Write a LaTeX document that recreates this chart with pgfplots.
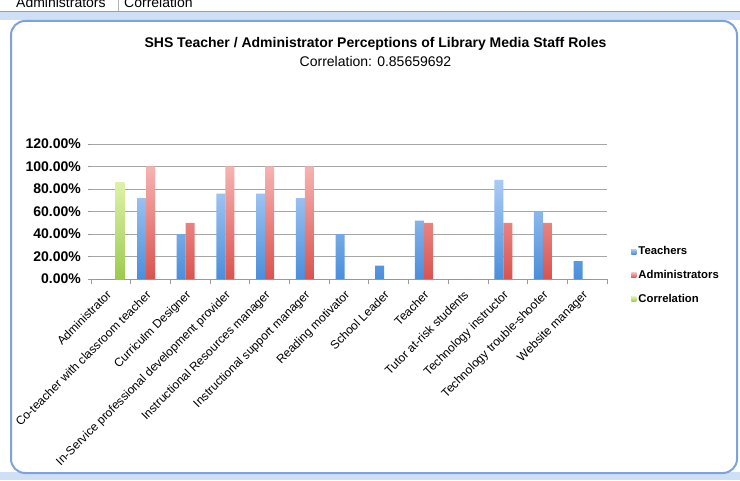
\documentclass[border=0pt]{standalone}
\usepackage{pgfplots}
\pgfplotsset{compat=1.18}
\usepackage{fontspec}
\setmainfont{Liberation Sans}
\definecolor{tblueT}{HTML}{A9CBF5}
\definecolor{tblueB}{HTML}{4A8EDB}
\definecolor{aredT}{HTML}{F7B3B1}
\definecolor{aredB}{HTML}{D9534F}
\definecolor{cgrnT}{HTML}{DDF2A8}
\definecolor{cgrnB}{HTML}{9BCB4E}
\definecolor{frameblue}{HTML}{7EA3DB}
\definecolor{bandblue}{HTML}{CFE0F6}
\pgfplotstableread{
x T A
0 0 0
1 0.72 1
2 0.40 0.5
3 0.76 1
4 0.76 1
5 0.72 1
6 0.40 0
7 0.12 0
8 0.52 0.5
9 0 0
10 0.88 0.5
11 0.60 0.5
12 0.16 0
}\datatable
\begin{document}
\begin{tikzpicture}[x=1pt,y=1pt]
\useasboundingbox (0,0) rectangle (740,480);
\fill[white] (0,0) rectangle (740,480);
% spreadsheet remnants
\begin{scope}
\clip (0,468) rectangle (740,480);
\node[anchor=base west,font=\fontsize{14}{14}\selectfont,inner sep=0] at (16,472) {Administrators};
\node[anchor=base west,font=\fontsize{14}{14}\selectfont,inner sep=0] at (124,472) {Correlation};
\draw[gray!60] (118,468) -- (118,480);
\end{scope}
\fill[bandblue] (0,460) rectangle (740,468);
\draw[frameblue,line width=1pt] (0,468) -- (740,468);
\fill[bandblue] (0,0) rectangle (740,8);
\draw[frameblue,line width=2pt,rounded corners=14pt,fill=white] (11,7) rectangle (737,459);
% titles
\node[font=\bfseries\fontsize{14}{14}\selectfont] at (375.5,436) {SHS Teacher / Administrator Perceptions of Library Media Staff Roles};
\node[font=\fontsize{14}{14}\selectfont] at (375.5,419) {Correlation: 0.85659692};
\begin{axis}[
  at={(91pt,201pt)}, anchor=south west,
  scale only axis, width=516pt, height=135pt,
  xmin=-0.5, xmax=12.5, ymin=0, ymax=1.2,
  ybar, bar width=9pt,
  axis x line*=bottom, axis y line*=left,
  x axis line style={gray!80, line width=0.8pt, -},
  y axis line style={draw=none},
  xtick={0,...,12},
  xticklabels={Administrator,Co-teacher with classroom teacher,Curriculm Designer,In-Service professional development provider,Instructional Resources manager,Instructional support manager,Reading motivator,School Leader,Teacher,Tutor at-risk students,Technology instructor,Technology trouble-shooter,Website manager},
  major x tick style={draw=none},
  minor xtick={-0.5,0.5,...,12.5},
  minor x tick style={gray!80, line width=0.8pt},
  minor tick length=5pt,
  tick align=outside,
  xticklabel style={yshift=-6pt, xshift=-5pt, rotate=45, anchor=north east, font=\fontsize{12}{12}\selectfont, inner sep=1pt},
  ytick={0,0.2,...,1.2},
  yticklabels={0.00\%,20.00\%,40.00\%,60.00\%,80.00\%,100.00\%,120.00\%},
  yticklabel style={font=\bfseries\fontsize{14}{14}\selectfont, inner sep=2pt, xshift=-5pt},
  major y tick style={gray!80, line width=0.8pt},
  major tick length=3pt,
  ymajorgrids, grid style={gray!70, line width=0.9pt},
  legend style={draw=none, fill=none, at={(axis description cs:1.047,0.255)}, anchor=north west,
    font=\bfseries\fontsize{11.3}{11.3}\selectfont, row sep=10pt, inner sep=0pt},
  legend cell align=left,
  legend image code/.code={\fill[#1] (0pt,-2.5pt) rectangle (5pt,2.5pt);},
]
\addplot[ybar, bar shift=-9pt, draw=none, top color=tblueT, bottom color=tblueB, legend image post style={fill=tblueB!80}] table[x=x,y=T] {\datatable};
\addlegendentry{Teachers}
\addplot[ybar, bar shift=0pt, draw=none, top color=aredT, bottom color=aredB, legend image post style={fill=aredB!80}] table[x=x,y=A] {\datatable};
\addlegendentry{Administrators}
\addplot[ybar, bar shift=9pt, draw=none, top color=cgrnT, bottom color=cgrnB, legend image post style={fill=cgrnB!80}] coordinates {(0,0.85659692)};
\addlegendentry{Correlation}
\end{axis}
\end{tikzpicture}
\end{document}
